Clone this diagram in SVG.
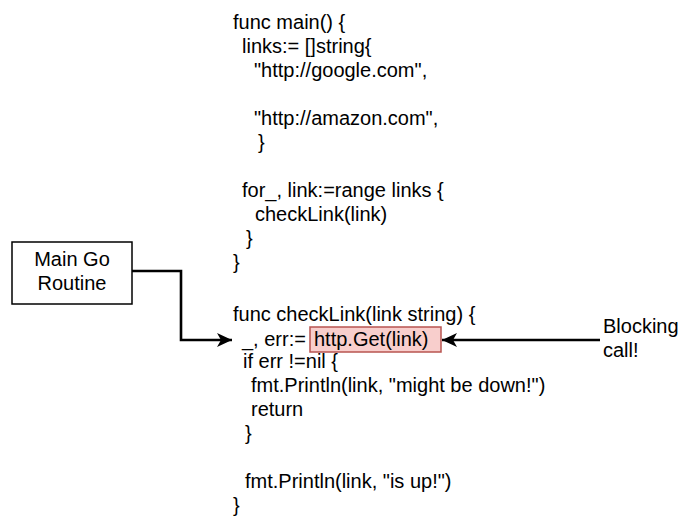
<svg xmlns="http://www.w3.org/2000/svg" width="689" height="531" viewBox="0 0 689 531">
<defs>
<style>
text{font-family:"Liberation Sans",Arial,Helvetica,sans-serif;font-size:20px;fill:#000}
.c{text-anchor:middle}
.ln{fill:none;stroke:#000;stroke-width:2.6}
</style>
<marker id="ah" markerUnits="userSpaceOnUse" markerWidth="16" markerHeight="14" refX="15" refY="7" orient="auto">
<path d="M0,0 L15,7 L0,14 L4,7 Z" fill="#000"/>
</marker>
</defs>
<rect width="689" height="531" fill="#fff"/>
<g id="highlight">
<rect x="310" y="327" width="131" height="25" fill="#f8cecc" stroke="#b85450" stroke-width="1.5"/>
</g>
<g id="code">
<text x="233" y="29">func main() {</text>
<text x="242" y="53">links:= []string{</text>
<text x="254" y="77">"http://google.com",</text>
<text x="254" y="125">"http://amazon.com",</text>
<text x="258" y="149">}</text>
<text x="242" y="197">for_, link:=range links {</text>
<text x="255" y="221">checkLink(link)</text>
<text x="246" y="245">}</text>
<text x="233" y="269">}</text>
<text x="233" y="321">func checkLink(link string) {</text>
<text x="242" y="346">_, err:=</text>
<text x="314" y="346">http.Get(link)</text>
<text x="243" y="368">if err !=nil {</text>
<text x="251" y="392">fmt.Println(link, "might be down!")</text>
<text x="251" y="416">return</text>
<text x="245" y="440">}</text>
<text x="245" y="488">fmt.Println(link, "is up!")</text>
<text x="233" y="512">}</text>
</g>
<g id="main-go-routine">
<rect x="12" y="242" width="120" height="62" fill="#fff" stroke="#000" stroke-width="1.5"/>
<text class="c" x="72" y="266">Main Go</text>
<text class="c" x="72" y="290">Routine</text>
</g>
<g id="blocking-call">
<text x="603" y="333">Blocking</text>
<text x="603" y="357">call!</text>
</g>
<g id="connectors">
<path class="ln" d="M132,271 H181 V340 H232" marker-end="url(#ah)"/>
<path class="ln" d="M600,340 H442" marker-end="url(#ah)"/>
</g>
</svg>
